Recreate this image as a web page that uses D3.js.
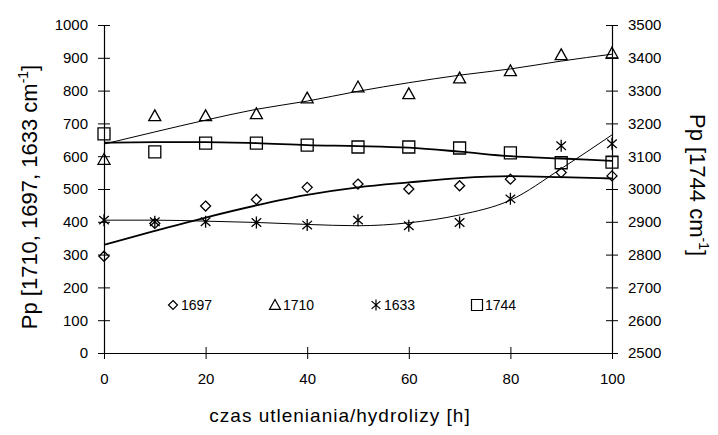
<!DOCTYPE html>
<html>
<head>
<meta charset="utf-8">
<script src="https://cdn.jsdelivr.net/npm/d3@7"></script>
<style>
  body { margin: 0; background: #fff; }
  text { font-family: "Liberation Sans", Arial, sans-serif; fill: #000; }
</style>
</head>
<body>
<div id="chart"></div>
<script>
// czas [h]
var hours = [0, 10, 20, 30, 40, 50, 60, 70, 80, 90, 100];

// measured points (left axis)
var p1697 = [295, 395, 448, 468, 505, 515, 500, 510, 530, 550, 540];
var p1710 = [590, 723, 723, 729, 777, 811, 790, 838, 860, 909, 914];
var p1633 = [405, 400, 400, 398, 390, 405, 388, 398, 470, 632, 638];
// right axis
var p1744 = [3168, 3113, 3140, 3140, 3134, 3128, 3128, 3125, 3110, 3080, 3082];

// trend lines as drawn in the picture
var t1697 = [330, 372, 413, 450, 482, 505, 520, 533, 539, 536, 532];
var t1710 = [637, 674, 710, 743, 768, 798, 824, 847, 866, 890, 911];
var t1633 = [405, 405, 402, 398, 392, 388, 397, 421, 466, 562, 665];
var t1744 = [3141, 3143, 3143, 3140, 3134, 3131, 3126, 3114, 3100, 3093, 3086];

var xTicks = [0, 20, 40, 60, 80, 100];
var leftTicks = [0, 100, 200, 300, 400, 500, 600, 700, 800, 900, 1000];
var rightTicks = [2500, 2600, 2700, 2800, 2900, 3000, 3100, 3200, 3300, 3400, 3500];
var legendNames = ["1697", "1710", "1633", "1744"];

var W = 718, H = 435;
var m = {left: 104, right: 106, top: 25, bottom: 82};

var svg = d3.select('#chart').append('svg')
  .attr('width', W).attr('height', H);

var x = d3.scaleLinear().domain([0, 100]).range([m.left, W - m.right]);
var yL = d3.scaleLinear().domain([0, 1000]).range([H - m.bottom, m.top]);
var yR = d3.scaleLinear().domain([2500, 3500]).range([H - m.bottom, m.top]);
var fmt = d3.format('d');

// axes
var axX = svg.append('g')
  .attr('transform', 'translate(0,' + (H - m.bottom) + ')')
  .call(d3.axisBottom(x).tickValues(xTicks).tickFormat(fmt).tickSizeInner(6).tickSizeOuter(0).tickPadding(14));
axX.selectAll('.tick line').attr('y1', -6);

var axL = svg.append('g')
  .attr('transform', 'translate(' + m.left + ',0)')
  .call(d3.axisLeft(yL).tickValues(leftTicks).tickFormat(fmt).tickSizeInner(6).tickSizeOuter(0).tickPadding(10));
axL.selectAll('.tick line').attr('x1', 6);

var axR = svg.append('g')
  .attr('transform', 'translate(' + (W - m.right) + ',0)')
  .call(d3.axisRight(yR).tickValues(rightTicks).tickFormat(fmt).tickSizeInner(6).tickSizeOuter(0).tickPadding(10));
axR.selectAll('.tick line').attr('x1', -6);

svg.selectAll('.domain').attr('stroke', '#000').attr('stroke-width', 1.2);
svg.selectAll('.tick line').attr('stroke', '#000');
svg.selectAll('.tick text')
  .style('font-family', '"Liberation Sans", Arial, sans-serif')
  .style('font-size', '15px').attr('fill', '#000');

// trend lines
function trend(vals, scale, width) {
  var line = d3.line()
    .x(function(d, i) { return x(hours[i]); })
    .y(function(d) { return scale(d); })
    .curve(d3.curveMonotoneX);
  svg.append('path').datum(vals)
    .attr('d', line)
    .attr('fill', 'none')
    .attr('stroke', '#000')
    .attr('stroke-width', width);
}
trend(t1710, yL, 1);
trend(t1633, yL, 1);
trend(t1697, yL, 1.8);
trend(t1744, yR, 1.8);

// markers
var shapes = {
  diamond: function(s) { return 'M0,' + (-s) + 'L' + s + ',0L0,' + s + 'L' + (-s) + ',0Z'; },
  triangle: function(s) { return 'M0,' + (-s) + 'L' + s + ',' + (s * 0.8) + 'L' + (-s) + ',' + (s * 0.8) + 'Z'; },
  star: function(s) {
    return 'M0,' + (-s) + 'V' + s +
      'M' + (-s * 0.8) + ',' + (-s * 0.7) + 'L' + (s * 0.8) + ',' + (s * 0.7) +
      'M' + (s * 0.8) + ',' + (-s * 0.7) + 'L' + (-s * 0.8) + ',' + (s * 0.7);
  },
  square: function(s) { return 'M' + (-s) + ',' + (-s) + 'H' + s + 'V' + s + 'H' + (-s) + 'Z'; }
};

function points(vals, scale, shape, size) {
  svg.append('g').selectAll('path')
    .data(vals)
    .enter()
    .append('path')
    .attr('transform', function(d, i) { return 'translate(' + x(hours[i]) + ',' + scale(d) + ')'; })
    .attr('d', shapes[shape](size))
    .attr('fill', 'none')
    .attr('stroke', '#000')
    .attr('stroke-width', 1.3);
}
points(p1697, yL, 'diamond', 5);
points(p1710, yL, 'triangle', 6);
points(p1633, yL, 'star', 6);
points(p1744, yR, 'square', 6);

// legend
var legShapes = ['diamond', 'triangle', 'star', 'square'];
var legSizes = [4.5, 5.5, 5.5, 5.5];
var legX = [173, 275, 376, 477];
var legY = 305;
legendNames.forEach(function(name, i) {
  svg.append('path')
    .attr('transform', 'translate(' + legX[i] + ',' + legY + ')')
    .attr('d', shapes[legShapes[i]](legSizes[i]))
    .attr('fill', 'none').attr('stroke', '#000').attr('stroke-width', 1.2);
  svg.append('text')
    .attr('x', legX[i] + 8).attr('y', legY + 5)
    .style('font-family', '"Liberation Sans Narrow", "Liberation Sans", sans-serif')
    .style('font-size', '14px')
    .text(name);
});

// axis titles
var lt = svg.append('text')
  .attr('transform', 'translate(37,197) rotate(-90)')
  .attr('text-anchor', 'middle')
  .style('font-size', '22px');
lt.append('tspan').text('Pp [1710, 1697, 1633 cm');
lt.append('tspan').attr('dy', -9).style('font-size', '14px').text('-1');
lt.append('tspan').attr('dy', 9).text(']');

var rt = svg.append('text')
  .attr('transform', 'translate(690,185) rotate(90)')
  .attr('text-anchor', 'middle')
  .style('font-size', '22px');
rt.append('tspan').text('Pp [1744 cm');
rt.append('tspan').attr('dy', -9).style('font-size', '14px').text('-1');
rt.append('tspan').attr('dy', 9).text(']');

svg.append('text')
  .attr('x', 340).attr('y', 422)
  .attr('text-anchor', 'middle')
  .style('font-size', '19px')
  .style('letter-spacing', '1px')
  .text('czas utleniania/hydrolizy [h]');
</script>
</body>
</html>
